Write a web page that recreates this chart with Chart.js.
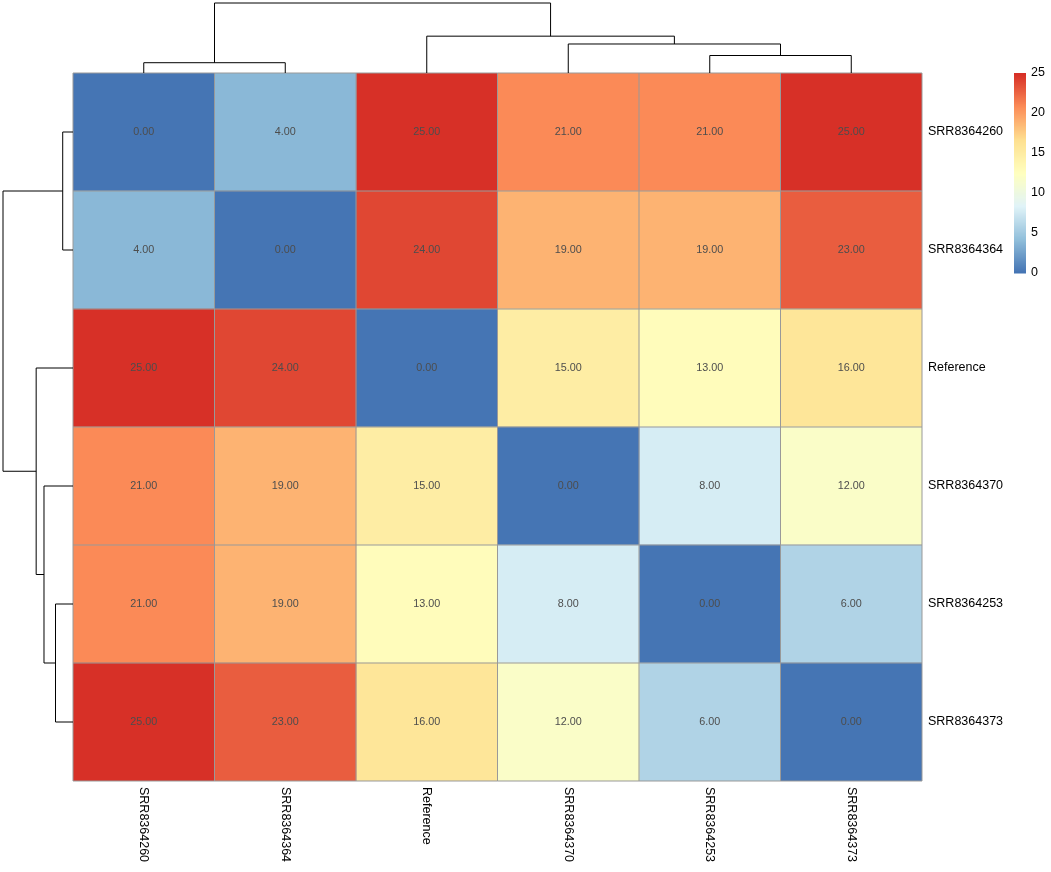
<!DOCTYPE html>
<html>
<head>
<meta charset="utf-8">
<script src="https://cdn.jsdelivr.net/npm/chart.js@4/dist/chart.umd.min.js"></script>
<style>
  body { margin: 0; background: #fff; }
</style>
</head>
<body>
<canvas id="heatChart" width="1051" height="872"></canvas>
<script>
// sample order after clustering (same for rows and columns)
let samples = [
    "SRR8364260",
    "SRR8364364",
    "Reference",
    "SRR8364370",
    "SRR8364253",
    "SRR8364373"
]

let rowSRR8364260 = [0, 4, 25, 21, 21, 25]
let rowSRR8364364 = [4, 0, 24, 19, 19, 23]
let rowReference  = [25, 24, 0, 15, 13, 16]
let rowSRR8364370 = [21, 19, 15, 0, 8, 12]
let rowSRR8364253 = [21, 19, 13, 8, 0, 6]
let rowSRR8364373 = [25, 23, 16, 12, 6, 0]

// hclust style merges: negative = leaf (1-based), positive = earlier merge
let merges = [[-1, -2], [-5, -6], [-4, 2], [-3, 3], [1, 4]]
let mergeHeights = [6.7, 11.4, 18.9, 24.0, 45.6]

let legendTicks = [0, 5, 10, 15, 20, 25]
let legendMax = 25

let palette = [`#4575B4`, `#91BFDB`, `#E0F3F8`, `#FFFFBF`, `#FEE090`, `#FC8D59`, `#D73027`]

let rows = [rowSRR8364260, rowSRR8364364, rowReference, rowSRR8364370, rowSRR8364253, rowSRR8364373]

function hexRgb(h) {
    return [1, 3, 5].map((i) => parseInt(h.substr(i, 2), 16))
}

function rampColor(t) {
    const seg = t * (palette.length - 1)
    const i = Math.min(palette.length - 2, Math.floor(seg))
    const f = seg - i
    const a = hexRgb(palette[i])
    const b = hexRgb(palette[i + 1])
    const c = a.map((v, k) => Math.round(v + (b[k] - v) * f))
    return `rgb(${c[0]}, ${c[1]}, ${c[2]})`
}

function cellColor(v) {
    const k = Math.max(1, Math.ceil(v / legendMax * 100))
    return rampColor((k - 1) / 99)
}

const FONT = `"Liberation Sans", Arial, sans-serif`

// column j becomes one stacked dataset, one segment per row
let datasets = samples.map((name, j) => {
    return {
        label: name,
        data: rows.map(() => 1),
        backgroundColor: rows.map((r) => cellColor(r[j])),
        borderWidth: 0
    }
})

// positions of leaves / merges along the axis, plus heights
function dendroNodes(centers) {
    const nodes = []
    const pos = (ref) => ref < 0 ? { p: centers[-ref - 1], h: 0 } : nodes[ref - 1]
    merges.forEach((m, i) => {
        const a = pos(m[0]), b = pos(m[1])
        nodes.push({ p: (a.p + b.p) / 2, h: mergeHeights[i], a: a, b: b })
    })
    return nodes
}

const heatPlugin = {
    id: `heatExtras`,
    afterDatasetsDraw(chart) {
        const ctx = chart.ctx
        const xs = chart.scales.x
        const ys = chart.scales.y
        const area = chart.chartArea
        const band = ys.getPixelForValue(1) - ys.getPixelForValue(0)
        const colCenters = samples.map((s, j) => xs.getPixelForValue(j + 0.5))
        const rowCenters = samples.map((s, i) => ys.getPixelForValue(i))

        ctx.save()
        // cell borders
        ctx.strokeStyle = `#999999`
        ctx.lineWidth = 1
        ctx.beginPath()
        for (let j = 0; j <= samples.length; j++) {
            const x = xs.getPixelForValue(j)
            ctx.moveTo(x, area.top)
            ctx.lineTo(x, area.bottom)
        }
        for (let i = 0; i <= samples.length; i++) {
            const y = ys.getPixelForValue(0) - band / 2 + i * band
            ctx.moveTo(area.left, y)
            ctx.lineTo(area.right, y)
        }
        ctx.stroke()

        // numbers
        ctx.fillStyle = `#4D4D4D`
        ctx.font = `10.8px ${FONT}`
        ctx.textAlign = `center`
        ctx.textBaseline = `middle`
        rows.forEach((r, i) => {
            r.forEach((v, j) => {
                ctx.fillText(v.toFixed(2), colCenters[j], rowCenters[i])
            })
        })

        // column labels, rotated
        ctx.fillStyle = `#000`
        ctx.font = `12.5px ${FONT}`
        ctx.textAlign = `left`
        samples.forEach((s, j) => {
            ctx.save()
            ctx.translate(colCenters[j], area.bottom + 6)
            ctx.rotate(Math.PI / 2)
            ctx.fillText(s, 0, 0)
            ctx.restore()
        })

        // dendrograms
        const maxH = Math.max(...mergeHeights)
        const spanTop = area.top - 3
        const spanLeft = area.left - 3
        ctx.strokeStyle = `#000`
        ctx.lineWidth = 1
        ctx.beginPath()
        dendroNodes(colCenters).forEach((n) => {
            const y = area.top - n.h / maxH * spanTop
            const ya = area.top - n.a.h / maxH * spanTop
            const yb = area.top - n.b.h / maxH * spanTop
            ctx.moveTo(n.a.p, ya)
            ctx.lineTo(n.a.p, y)
            ctx.lineTo(n.b.p, y)
            ctx.lineTo(n.b.p, yb)
        })
        dendroNodes(rowCenters).forEach((n) => {
            const x = area.left - n.h / maxH * spanLeft
            const xa = area.left - n.a.h / maxH * spanLeft
            const xb = area.left - n.b.h / maxH * spanLeft
            ctx.moveTo(xa, n.a.p)
            ctx.lineTo(x, n.a.p)
            ctx.lineTo(x, n.b.p)
            ctx.lineTo(xb, n.b.p)
        })
        ctx.stroke()

        // colour key
        const cbLeft = area.right + 92
        const cbTop = area.top
        const cbW = 12
        const cbH = 200
        for (let k = 0; k < 100; k++) {
            ctx.fillStyle = rampColor(k / 99)
            ctx.fillRect(cbLeft, cbTop + cbH - (k + 1) * cbH / 100, cbW, cbH / 100 + 0.5)
        }
        ctx.fillStyle = `#000`
        ctx.font = `12.5px ${FONT}`
        ctx.textAlign = `left`
        ctx.textBaseline = `middle`
        legendTicks.forEach((t) => {
            ctx.fillText(String(t), cbLeft + cbW + 5, cbTop + cbH * (1 - t / legendMax))
        })
        ctx.restore()
    }
}

function heatChart() {
    const ctx = document.getElementById(`heatChart`)

    new Chart(ctx, {
        type: `bar`,
        data: {
            labels: samples,
            datasets: datasets
        },
        options: {
            indexAxis: `y`,
            responsive: false,
            animation: false,
            barPercentage: 1,
            categoryPercentage: 1,
            layout: {
                padding: { left: 73, top: 73, right: 0, bottom: 91 }
            },
            plugins: {
                legend: { display: false },
                tooltip: { enabled: false }
            },
            scales: {
                x: {
                    type: `linear`,
                    stacked: true,
                    min: 0,
                    max: samples.length,
                    display: false
                },
                y: {
                    type: `category`,
                    stacked: true,
                    position: `right`,
                    offset: true,
                    grid: { display: false, drawTicks: false },
                    border: { display: false },
                    ticks: {
                        color: `#000`,
                        padding: 6,
                        font: { family: FONT, size: 12.5 }
                    },
                    afterFit(scale) {
                        scale.width = 129
                    }
                }
            }
        },
        plugins: [heatPlugin]
    })
}

heatChart()
</script>
</body>
</html>
